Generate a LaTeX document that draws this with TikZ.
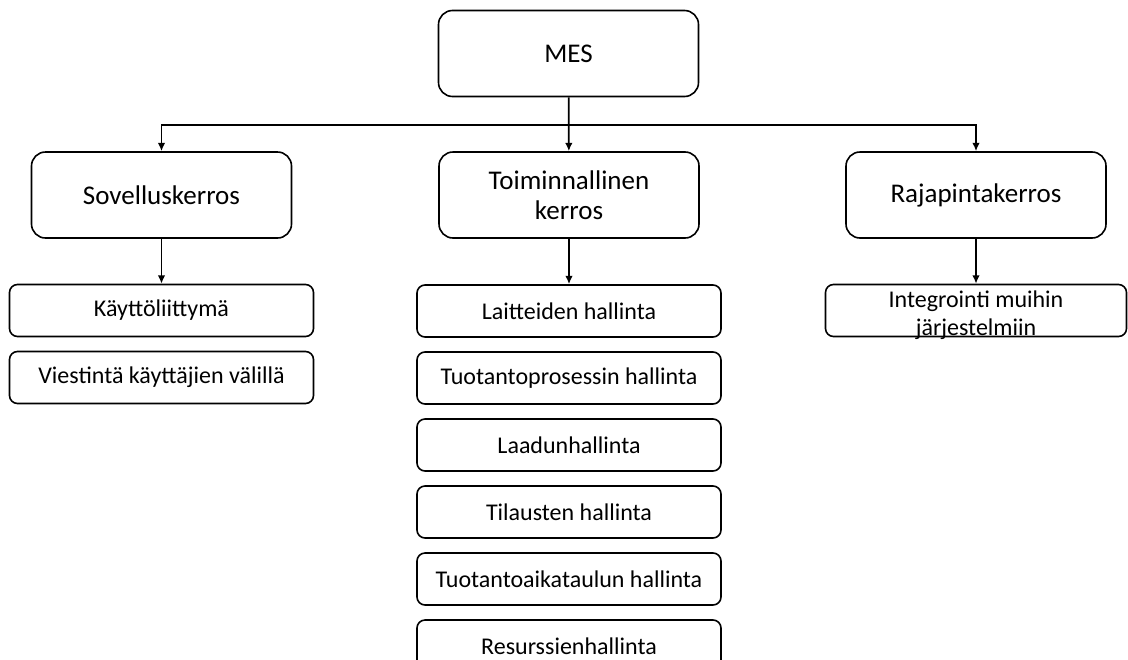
\documentclass[tikz,border=0pt]{standalone}
\usepackage{fontspec}
\setmainfont{Carlito}
\usetikzlibrary{arrows.meta, positioning}

\begin{document}
\begin{tikzpicture}[x=0.5pt, y=-0.5pt, ->, >={Latex[length=4.2pt, width=3.8pt]}, line width=0.9pt]
    \tikzstyle{layer} = [draw, rounded corners=7pt, minimum width=130pt, minimum height=43pt, align=center, font=\fontsize{13.5}{15}\selectfont, line width=0.8pt]
    \tikzstyle{task} = [draw, rounded corners=4pt, minimum width=152pt, minimum height=26pt, align=center, font=\fontsize{12}{14}\selectfont, line width=0.8pt]
    \useasboundingbox (0,0) rectangle (1128,659);
    \clip (0,0) rectangle (1128,659);
    \node [layer] at (568.5,53.5) (mes) {MES};
    \node [layer] at (161.5,195) (sov) {Sovelluskerros};
    \node [layer] at (569,195) (toim) {Toiminnallinen\\kerros};
    \node [layer] at (976,195) (raja) {Rajapintakerros};
    \coordinate (bus) at (569,125);
    % sovelluskerros
    \node [task] at (161.5,310.5) (kaytto) {Käyttöliittymä};
    \node [task, below=6.7pt of kaytto] (viestinta) {Viestintä käyttäjien välillä};
    % toiminnallinen kerros
    \node [task] at (569,311) (laitteet) {Laitteiden hallinta};
    \node [task, below=6.7pt of laitteet] (prosessi) {Tuotantoprosessin hallinta};
    \node [task, below=6.7pt of prosessi] (laatu) {Laadunhallinta};
    \node [task, below=6.7pt of laatu] (tilaus) {Tilausten hallinta};
    \node [task, below=6.7pt of tilaus] (aikataulu) {Tuotantoaikataulun hallinta};
    \node [task, below=6.7pt of aikataulu] (resurssi) {Resurssienhallinta};
    % rajapintakerros
    \node [task, minimum width=150.5pt] at (976,310.5) (integ) {};
    \node [align=center, inner sep=0pt, font=\fontsize{12}{14}\selectfont] at (976,315) (integtext) {Integrointi muihin\\järjestelmiin};
    \draw (mes) -- (toim);
    \draw (bus) -| (sov);
    \draw (bus) -| (raja);
    \draw (sov) -- (kaytto);
    \draw (toim) -- (laitteet);
    \draw (raja) -- (integ);
\end{tikzpicture}
\end{document}
